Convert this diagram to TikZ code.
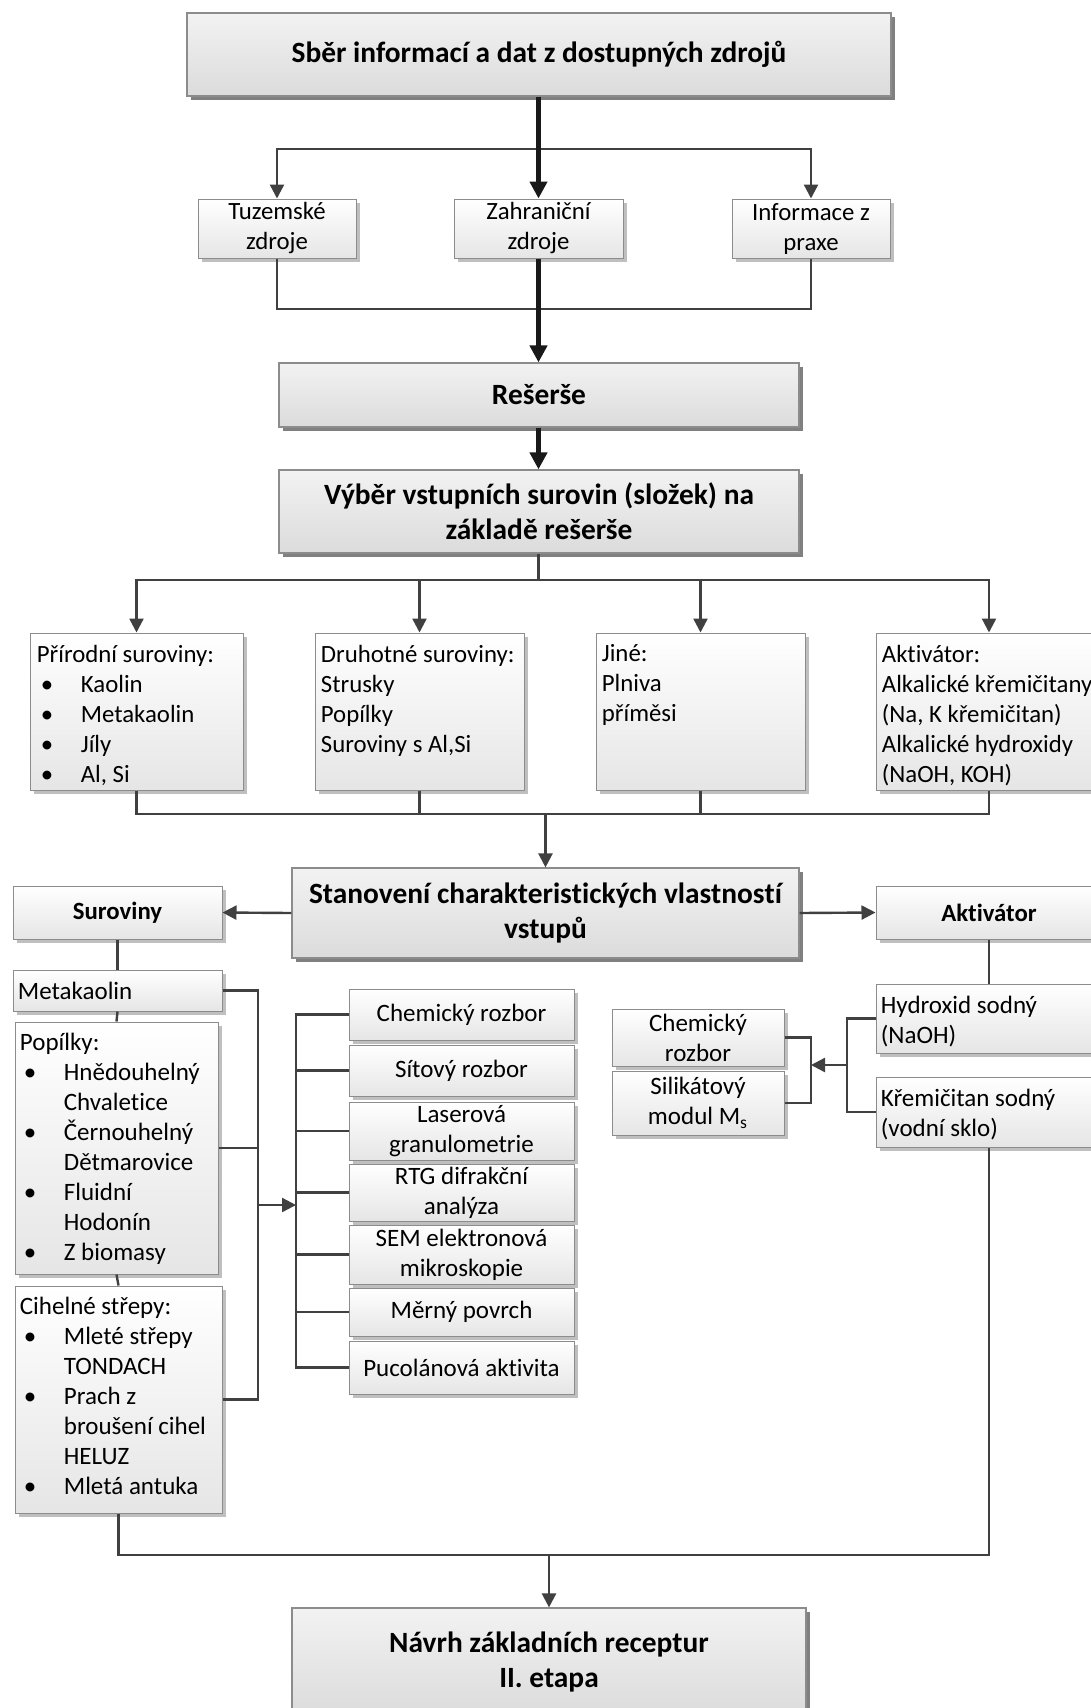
\documentclass[tikz,border=0pt]{standalone}
\usepackage{fontspec}
\setmainfont{Carlito}[Ligatures=NoCommon,Contextuals=NoAlternate]
\usetikzlibrary{arrows.meta,shadows}
\definecolor{lncol}{HTML}{404040}
\definecolor{bdcol}{HTML}{8C8C8C}
\newcommand{\fN}{\fontsize{12.4}{15}\selectfont}
\newcommand{\fL}{\fontsize{12.5}{15}\selectfont}
\newcommand{\fB}{\bfseries\fontsize{14.7}{17.6}\selectfont}
\newcommand{\itm}[1]{\makebox[22pt][l]{\hspace*{2pt}\textbullet}#1}
\newcommand{\icont}[1]{\hspace*{22pt}#1}
\newcommand{\mkbx}[7]{%
  \pgfmathsetmacro\bxcx{(#3+#5)/2}%
  \pgfmathsetmacro\bxcy{(#4+#6)/2}%
  \pgfmathsetmacro\bxw{(#5-#3)/2}%
  \pgfmathsetmacro\bxh{(#6-#4)/2}%
  \node[#1, minimum width=\bxw pt, minimum height=\bxh pt] (#2) at (\bxcx,\bxcy) {#7};}
\tikzset{
  ln/.style={draw=lncol, line width=1.2pt},
  thk/.style={draw=black!90, line width=2.3pt},
  arr/.style={-{Triangle[length=7pt,width=7pt]}},
  arrb/.style={-{Triangle[length=8.5pt,width=8.5pt]}},
  sbox/.style={draw=bdcol, line width=0.5pt, top color=white, bottom color=black!10, inner sep=0pt, align=center,
    drop shadow={shadow xshift=2pt, shadow yshift=-2pt, fill=black!25, opacity=1}},
  mbox/.style={draw=bdcol, line width=0.6pt, top color=black!5, bottom color=black!14, inner sep=0pt, align=center,
    drop shadow={shadow xshift=2.2pt, shadow yshift=-2.2pt, fill=black!50, opacity=1}},
  txt/.style={inner sep=0pt, font=\fN, align=left, anchor=north west},
}
\begin{document}
\begin{tikzpicture}[x=0.5pt,y=-0.5pt]
\path[use as bounding box, fill=white] (0,0) rectangle (1091,1708);

% top part
\mkbx{mbox,font=\fB}{sber}{187}{13}{891}{96}{Sběr informací a dat z dostupných zdrojů}
\mkbx{sbox,font=\fN}{tuz}{198}{199}{356}{258}{Tuzemské\\zdroje}
\mkbx{sbox,font=\fN}{zahr}{454}{199}{623}{258}{Zahraniční\\zdroje}
\mkbx{sbox,font=\fN}{info}{732}{199}{890}{258}{Informace z\\praxe}
\mkbx{mbox,font=\fB}{res}{279}{363}{799}{427}{Rešerše}
\mkbx{mbox,font=\fB}{vyb}{279}{470}{799}{553}{Výběr vstupních surovin (složek) na\\základě rešerše}

% row 3
\mkbx{sbox}{pri}{30}{633}{243}{790}{}
\mkbx{sbox}{dru}{315}{633}{524}{790}{}
\mkbx{sbox}{jin}{596}{633}{805}{790}{}
\mkbx{sbox}{akt}{876}{633}{1102}{790}{}
\node[txt] (pri-t) at ([shift={(7,12)}]pri.north west) {Přírodní suroviny:\\\itm{Kaolin}\\\itm{Metakaolin}\\\itm{Jíly}\\\itm{Al, Si}};
\node[txt] (dru-t) at ([shift={(6,12)}]dru.north west) {Druhotné suroviny:\\Strusky\\Popílky\\Suroviny s Al,Si};
\node[txt] (jin-t) at ([shift={(6,12)}]jin.north west) {Jiné:\\Plniva\\příměsi};
\node[txt] (akt-t) at ([shift={(6,12)}]akt.north west) {Aktivátor:\\Alkalické křemičitany\\(Na, K křemičitan)\\Alkalické hydroxidy\\(NaOH, KOH)};

% stanoveni
\mkbx{mbox,font=\fB}{stan}{292}{868}{799}{958}{Stanovení charakteris\kern0pt tických vlastnos\kern0pt tí\\vstupů}
\mkbx{sbox,font=\fN\bfseries}{sur}{13}{886}{222}{939}{Suroviny}
\mkbx{sbox,font=\fN\bfseries}{akh}{876}{886}{1102}{939}{Aktivátor}

% left column
\mkbx{sbox}{meta}{13}{970}{222}{1011}{}
\node[txt, font=\fL, anchor=west] (meta-t) at ([xshift=2.5pt]meta.west) {Metakaolin};
\mkbx{sbox}{pop}{15}{1022}{218}{1274}{}
\node[txt, font=\fL] (pop-t) at ([shift={(5,11)}]pop.north west) {Popílky:\\\itm{Hnědouhelný}\\\icont{Chvaletice}\\\itm{Černouhelný}\\\icont{Dětmarovice}\\\itm{Fluidní}\\\icont{Hodonín}\\\itm{Z biomasy}};
\mkbx{sbox}{cih}{15}{1286}{222}{1513}{}
\node[txt, font=\fL] (cih-t) at ([shift={(5,11)}]cih.north west) {Cihelné střepy:\\\itm{Mleté střepy}\\\icont{TONDACH}\\\itm{Prach z}\\\icont{broušení cihel}\\\icont{HELUZ}\\\itm{Mletá antuka}};

% tests
\mkbx{sbox,font=\fL}{chem1}{349}{989}{574}{1040}{Chemický rozbor}
\mkbx{sbox,font=\fL}{sit}{349}{1045}{574}{1096}{Sítový rozbor}
\mkbx{sbox,font=\fL}{las}{349}{1102}{574}{1160}{Laserová\\granulometrie}
\mkbx{sbox,font=\fL}{rtg}{349}{1164}{574}{1221}{RTG difrakční\\analýza}
\mkbx{sbox,font=\fL}{sem}{349}{1225}{574}{1284}{SEM elektronová\\mikroskopie}
\mkbx{sbox,font=\fL}{mer}{349}{1288}{574}{1336}{Měrný povrch}
\mkbx{sbox,font=\fL}{puc}{349}{1341}{574}{1394}{Pucolánová akt\kern0pt ivita}

% right column
\mkbx{sbox,font=\fL}{chem2}{612}{1009}{784}{1066}{Chemický\\rozbor}
\mkbx{sbox,font=\fL}{sil}{612}{1071}{784}{1135}{Silikátový\\modul M\textsubscript{s}}
\mkbx{sbox}{hyd}{876}{984}{1102}{1053}{}
\node[txt, font=\fL, anchor=west] (hyd-t) at ([shift={(5,3)}]hyd.west) {Hydroxid sodný\\(NaOH)};
\mkbx{sbox}{kre}{876}{1077}{1102}{1147}{}
\node[txt, font=\fL, anchor=west] (kre-t) at ([shift={(5,3)}]kre.west) {Křemičitan sodný\\(vodní sklo)};

% final
\mkbx{mbox,font=\fB}{navrh}{292}{1608}{806}{1716}{Návrh základních receptur\\II. etapa}

% connectors
\coordinate (j1) at (538.5,149);
\draw[ln,arr] (j1) -| (tuz.north);
\draw[ln,arr] (j1) -| (info.north);
\draw[thk,arrb] (sber.south -| zahr.north) -- (zahr.north);
\coordinate (j2) at (538.5,309);
\draw[ln] (tuz.south) |- (j2) -| (info.south);
\draw[thk,arrb] (zahr.south) -- (zahr.south |- res.north);
\draw[thk,arrb] (res.south -| zahr.south) -- (zahr.south |- vyb.north);
\coordinate (j3) at (538.5,580);
\draw[ln] (zahr.south |- vyb.south) -- (j3);
\draw[ln,arr] (j3) -| (pri.north);
\draw[ln,arr] (j3) -| (dru.north);
\draw[ln,arr] (j3) -| (jin.north);
\draw[ln,arr] (j3) -| (akt.north);
\coordinate (j4) at (545.5,814);
\draw[ln] (pri.south) |- (akt.south |- j4) -- (akt.south);
\draw[ln] (dru.south) -- (dru.south |- j4);
\draw[ln] (jin.south) -- (jin.south |- j4);
\draw[ln,arr] (j4) -- (stan.north);
\draw[ln,arr] (stan.west) -- (sur.east);
\draw[ln,arr] (stan.east) -- (akh.west);
\draw[ln] (sur.south) -- (meta.north);
\draw[ln] (meta.south) -- (pop.north);
\draw[ln] (pop.south) -- (cih.north);
\coordinate (j5) at (549,1555);
\draw[ln] (cih.south) |- (j5) -| (kre.south);
\draw[ln,arr] (j5) -- (navrh.north);
\draw[ln] (akh.south) -- (hyd.north);
% right brackets
\coordinate (rb) at (847,1065);
\coordinate (ib) at (811,1065);
\draw[ln] (hyd.west) -| (rb) |- (kre.west);
\draw[ln,arr] (rb) -- (ib);
\draw[ln] (chem2.east) -| (ib) |- (sil.east);
% left brackets
\coordinate (lb) at (258,1205);
\coordinate (tb) at (296,1205);
\draw[ln] (meta.east) -| (lb) |- (cih.east);
\draw[ln] (pop.east) -- (pop.east -| lb);
\draw[ln,arr] (lb) -- (tb);
\draw[ln] (chem1.west) -| (tb) |- (puc.west);
\foreach \n in {sit,las,rtg,sem,mer} \draw[ln] (\n.west) -- (\n.west -| tb);
\end{tikzpicture}
\end{document}
